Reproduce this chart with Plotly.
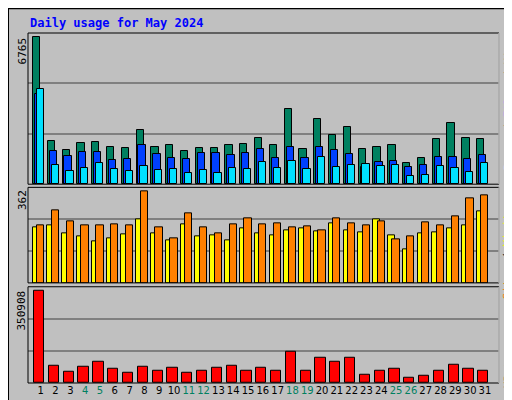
import plotly.graph_objects as go

days = list(range(1, 32))
weekend = [4, 5, 11, 12, 18, 19, 25, 26]
# pixel-read values
hits_px = [88,400,427,406,403,418,421,367,418,412,430,421,421,412,409,391,412,304,424,334,382,358,424,418,412,466,451,394,346,391,394]
files_px = [258,430,445,433,433,457,454,412,439,451,454,436,436,442,436,424,451,418,451,418,427,439,478,463,460,478,472,448,448,454,442]
pages_px = [243,472,490,481,466,484,490,475,487,484,496,487,496,481,484,463,481,460,484,448,478,472,469,475,472,505,502,475,481,493,466]
hits = [round((530 - v) * 6765 / 442) for v in hits_px]
files = [round((530 - v) * 6765 / 442) for v in files_px]
pages = [round((530 - v) * 6765 / 442) for v in pages_px]
sites_px = [136,130,154,163,178,169,157,112,154,175,127,163,160,175,139,154,160,145,139,148,124,145,151,112,160,202,154,151,139,130,88]
visits_px = [130,85,118,130,130,127,130,28,136,169,94,136,154,127,109,127,124,136,133,145,109,124,130,118,172,163,121,130,103,49,40]
sites = [round((304 - v) * 362 / 276) for v in sites_px]
visits = [round((304 - v) * 362 / 276) for v in visits_px]
kb_px = [328,550,568,553,538,559,571,553,565,556,571,565,556,550,565,556,565,508,565,526,538,526,577,565,559,586,580,565,547,559,565]
kbytes = [round((602 - v) * 350908 / 274) for v in kb_px]

fig = go.Figure()
def bar(y, color, off, w, ax):
    fig.add_trace(go.Bar(x=days, y=y, marker=dict(color=color, line=dict(color="black", width=1)),
                         offset=off, width=w, xaxis="x" + ax, yaxis="y" + ax, showlegend=False, hoverinfo="skip"))
bar(hits, "#008060", -0.53, 0.49, "")
bar(files, "#0040FF", -0.40, 0.49, "")
bar(pages, "#00E0FF", -0.27, 0.49, "")
bar(sites, "#FFFF00", -0.55, 0.49, "2")
bar(visits, "#FF8000", -0.25, 0.49, "2")
bar(kbytes, "#FF0000", -0.45, 0.69, "3")

grid = "#808080"
xr = [0.14, 31.95]
top_max, mid_max, bot_max = 6962, 377.7, 366700
def yax(dom, mx):
    return dict(domain=dom, range=[0, mx], tickvals=[mx/3, 2*mx/3], showticklabels=False,
                showgrid=True, gridcolor=grid, gridwidth=1.5, zeroline=False, ticks="", fixedrange=True)
ticktext = [f"<span style='color:#008060'>{d}</span>" if d in weekend else str(d) for d in days]
fig.update_layout(
    width=512, height=400, margin=dict(l=20, r=21, t=25, b=23),
    paper_bgcolor="#C0C0C0", plot_bgcolor="#C0C0C0", barmode="overlay", bargap=0,
    font=dict(family="DejaVu Sans", size=10, color="black"),
    xaxis=dict(range=xr, showticklabels=False, showgrid=False, zeroline=False, anchor="y"),
    xaxis2=dict(range=xr, showticklabels=False, showgrid=False, zeroline=False, anchor="y2"),
    xaxis3=dict(range=xr, tickvals=days, ticktext=ticktext, showgrid=False, zeroline=False,
                anchor="y3", ticks="", tickfont=dict(size=10)),
    yaxis=yax([0.568, 1.0], top_max),
    yaxis2=yax([0.286, 0.559], mid_max),
    yaxis3=yax([0.0, 0.275], bot_max),
)
shapes = []
for y0, y1 in [(0.568, 1.0), (0.286, 0.559), (0.0, 0.275)]:
    shapes.append(dict(type="rect", xref="paper", yref="paper", x0=0, x1=1, y0=y0, y1=y1,
                       line=dict(color="black", width=1)))
    shapes.append(dict(type="line", xref="paper", yref="paper", x0=1, x1=1, y0=y0, y1=y1,
                       line=dict(color="white", width=1)))
# outer border
shapes.append(dict(type="line", xref="paper", yref="paper", x0=489/471, x1=489/471,
                   y0=-20/352, y1=374/352, line=dict(color="#808080", width=3), layer="below"))
shapes.append(dict(type="line", xref="paper", yref="paper", x0=-18/471, x1=489/471,
                   y0=-20/352, y1=-20/352, line=dict(color="#808080", width=3), layer="below"))
shapes.append(dict(type="rect", xref="paper", yref="paper", x0=-20/471, x1=491/471,
                   y0=-23/352, y1=377/352, line=dict(color="black", width=2), layer="below"))
fig.update_layout(shapes=shapes)
mono = "DejaVu Sans Mono"
ann = [
    dict(text="<b>Daily usage for May 2024</b>", x=0/471, y=(377-15)/352, xanchor="left", yanchor="middle",
         font=dict(family=mono, size=12, color="#0000FF")),
    dict(text="6765", x=-6/471, y=(377-28)/352, textangle=-90, xanchor="center", yanchor="top", font=dict(family=mono, size=11)),
    dict(text="362", x=-6/471, y=(377-181)/352, textangle=-90, xanchor="center", yanchor="top", font=dict(family=mono, size=11)),
    dict(text="350908", x=-6/471, y=(377-282)/352, textangle=-90, xanchor="center", yanchor="top", font=dict(family=mono, size=11)),
    dict(text="<span style='color:#00E0FF'>Pages</span> / <span style='color:#0040FF'>Files</span> / <span style='color:#008060'>Hits</span>",
         x=1.0, y=(377-28)/352, xshift=9, textangle=-90, xanchor="center", yanchor="top", font=dict(family=mono, size=11)),
    dict(text="<span style='color:#FF8000'>Sites</span> / <span style='color:#FFFF00'>Visits</span>",
         x=1.0, y=(377-198)/352, xshift=9, textangle=-90, xanchor="center", yanchor="top", font=dict(family=mono, size=11)),
    dict(text="<span style='color:#FF0000'>KBytes</span>",
         x=1.0, y=(377-340)/352, xshift=9, textangle=-90, xanchor="center", yanchor="top", font=dict(family=mono, size=11)),
]
for a in ann:
    a.update(xref="paper", yref="paper", showarrow=False)
fig.update_layout(annotations=ann)
fig.write_html("out.html")
